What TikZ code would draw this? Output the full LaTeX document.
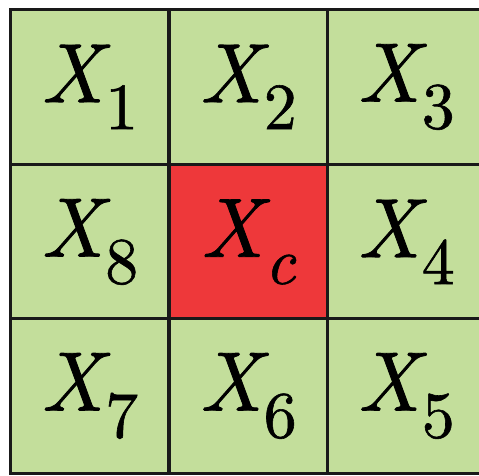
\documentclass[tikz,border=0pt]{standalone}
\usepackage{fontspec}
\definecolor{cellgreen}{RGB}{195,222,155}
\definecolor{cellred}{RGB}{238,56,58}
\font\bigX="[lmroman10-italic.otf]:embolden=1.0" at 84pt
\font\subup="[lmroman10-regular.otf]:embolden=0.9" at 66pt
\font\subit="[lmroman10-italic.otf]:embolden=0.9" at 66pt
\newcommand{\lab}[2][\subup]{{\bigX X}\kern2pt\raisebox{-27pt}{#1#2}}
\tikzset{
  cell/.style={draw=black!90, line width=3pt, fill=cellgreen, minimum width=158pt, minimum height=155pt, inner sep=0pt, anchor=center},
  redcell/.style={cell, fill=cellred},
}
\begin{document}
\begin{tikzpicture}[x=1pt,y=-1pt]
\useasboundingbox (0,0) rectangle (479,476);
\clip (0,0) rectangle (479,476);
\node[cell] (c1) at (89.5,87) {\lab{1}};
\node[cell] (c2) at (248,87) {\lab{2}};
\node[cell] (c3) at (406,87) {\lab{3}};
\node[cell] (c8) at (89.5,242) {\lab{8}};
\node[redcell] (cc) at (248,242) {\lab[\subit]{c}};
\node[cell] (c4) at (406,242) {\lab{4}};
\node[cell] (c7) at (89.5,396) {\lab{7}};
\node[cell] (c6) at (248,396) {\lab{6}};
\node[cell] (c5) at (406,396) {\lab{5}};
\end{tikzpicture}
\end{document}
